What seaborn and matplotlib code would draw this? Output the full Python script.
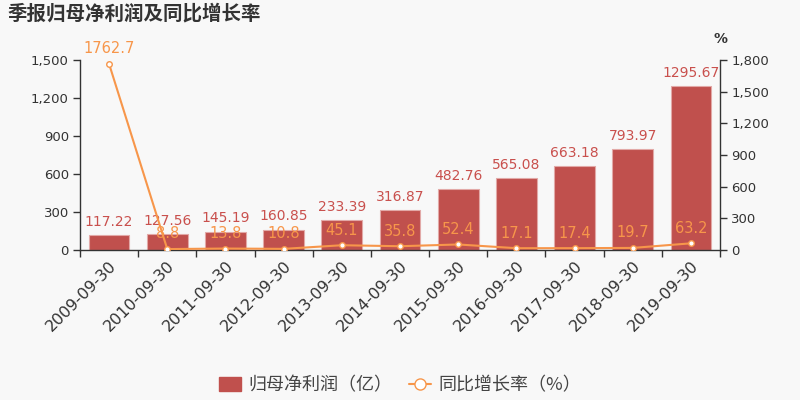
import numpy as np
import pandas as pd
import matplotlib
matplotlib.use("Agg")
import matplotlib.pyplot as plt
import matplotlib.transforms as mtransforms
import seaborn as sns
from matplotlib.patches import Patch
from matplotlib.lines import Line2D
from matplotlib.ticker import FuncFormatter, FixedLocator

dates = ["2009-09-30", "2010-09-30", "2011-09-30", "2012-09-30", "2013-09-30",
         "2014-09-30", "2015-09-30", "2016-09-30", "2017-09-30", "2018-09-30",
         "2019-09-30"]
profit = [117.22, 127.56, 145.19, 160.85, 233.39, 316.87, 482.76, 565.08,
          663.18, 793.97, 1295.67]
growth = [1762.7, 8.8, 13.8, 10.8, 45.1, 35.8, 52.4, 17.1, 17.4, 19.7, 63.2]
left_ticks = [0, 300, 600, 900, 1200, 1500]
right_ticks = [0, 300, 600, 900, 1200, 1500, 1800]

sns.set_theme(style="white")
plt.rcParams["font.family"] = ["DejaVu Sans", "Noto Sans CJK SC"]

BG = "#f8f8f8"
BAR = "#c0504d"
BAREDGE = "#e2a9a7"
BARTXT = "#c9504d"
LINE = "#f7964a"
TXT = "#333333"

df = pd.DataFrame({"date": dates, "profit": profit, "growth": growth,
                   "pos": np.arange(len(dates))})

fig = plt.figure(figsize=(8, 4), dpi=100, facecolor=BG)
ax = fig.add_axes([0.1, 0.375, 0.8, 0.475])
ax.set_facecolor(BG)

sns.barplot(data=df, x="date", y="profit", color=BAR, width=0.7,
            saturation=1, edgecolor=BAREDGE, linewidth=0.8, ax=ax, zorder=2)
ax.set_xlim(-0.5, len(dates) - 0.5)
ax.set_ylim(0, 1500)
ax.yaxis.set_major_locator(FixedLocator(left_ticks))
ax.yaxis.set_major_formatter(FuncFormatter(lambda v, p: f"{int(v):,}"))
ax.set_xlabel("")
ax.set_ylabel("")
for i, v in enumerate(profit):
    ax.annotate(f"{v:g}", (i, v), xytext=(0, 4.5), textcoords="offset points",
                ha="center", va="bottom", color=BARTXT, fontsize=10, zorder=5)

ax.set_xticks(range(len(dates)))
ax.set_xticklabels(dates, rotation=45, ha="right", rotation_mode="anchor",
                   fontsize=11.5, color=TXT)
shift = mtransforms.ScaledTranslation(-6 / 100, 2 / 100, fig.dpi_scale_trans)
for lab in ax.get_xticklabels():
    lab.set_transform(lab.get_transform() + shift)
ax.xaxis.set_minor_locator(FixedLocator(np.arange(-0.5, len(dates), 1.0)))
ax.tick_params(axis="x", which="major", length=0, pad=6)
ax.tick_params(axis="x", which="minor", length=5, color=TXT, width=1, bottom=True)
ax.tick_params(axis="y", length=5, color=TXT, width=1, left=True, pad=3,
               labelsize=9.5, labelcolor=TXT)
for s in ["top", "right"]:
    ax.spines[s].set_visible(False)
for s in ["left", "bottom"]:
    ax.spines[s].set_color(TXT)
    ax.spines[s].set_linewidth(1)

ax2 = ax.twinx()
sns.lineplot(data=df, x="pos", y="growth", color=LINE, linewidth=1.5,
             marker="o", markersize=4, markerfacecolor="white",
             markeredgecolor=LINE, markeredgewidth=1, ax=ax2, zorder=3)
ax2.set_ylim(0, 1800)
ax2.set_xlim(-0.5, len(dates) - 0.5)
ax2.yaxis.set_major_locator(FixedLocator(right_ticks))
ax2.yaxis.set_major_formatter(FuncFormatter(lambda v, p: f"{int(v):,}"))
ax2.set_xlabel("")
ax2.set_ylabel("")
ax2.tick_params(axis="y", length=5, color=TXT, width=1, right=True, pad=3,
                labelsize=9.5, labelcolor=TXT)
for s in ["top", "left", "bottom"]:
    ax2.spines[s].set_visible(False)
ax2.spines["right"].set_color(TXT)
ax2.spines["right"].set_linewidth(1)
for i, v in enumerate(growth):
    ax2.annotate(f"{v:g}", (i, v), xytext=(0, 5.5), textcoords="offset points",
                 ha="center", va="bottom", color=LINE, fontsize=10.5, zorder=5)
ax2.text(1.0, 1.11, "%", transform=ax2.transAxes, ha="center", va="center",
         fontsize=10, color=TXT, fontweight="bold")

fig.text(0.01, 0.966, "季报归母净利润及同比增长率", ha="left", va="center",
         fontsize=14, fontweight="bold", color=TXT,
         family=["Noto Sans CJK SC", "DejaVu Sans"])

handles = [Patch(facecolor=BAR, edgecolor=BAR),
           Line2D([0], [0], color=LINE, linewidth=1.5, marker="o", markersize=8,
                  markerfacecolor="white", markeredgecolor=LINE)]
leg = fig.legend(handles, ["归母净利润（亿）", "同比增长率（%）"], loc="center",
                 bbox_to_anchor=(0.5, 0.037), ncol=2, frameon=False,
                 handlelength=1.25, handleheight=0.8, handletextpad=0.4,
                 columnspacing=0.9,
                 prop={"family": ["Noto Sans CJK SC", "DejaVu Sans"], "size": 13})
for t in leg.get_texts():
    t.set_color("#444444")

fig.savefig("out.png", dpi=100, facecolor=BG)
